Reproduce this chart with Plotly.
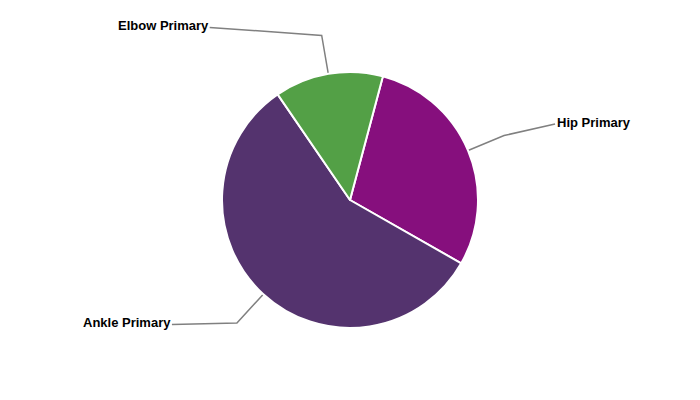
import math
import plotly.graph_objects as go

# ---- data ----
labels = ["Hip Primary", "Ankle Primary", "Elbow Primary"]
values = [29.1, 57.2, 13.7]
colors = ["#860f7d", "#54336e", "#53a046"]

# ---- layout parameters (pixels) ----
W, H = 700, 400
CX, CY, R = 350, 200, 128
ROTATION = 14.9
BREAK_R = 167
# label anchor offsets relative to the break point (dx, dy) and side
label_offsets = {
    "Hip Primary": (51, -11.5, "left"),
    "Ankle Primary": (-65, 1.5, "right"),
    "Elbow Primary": (-112, -8, "right"),
}

fig = go.Figure()

fig.add_trace(go.Pie(
    labels=labels, values=values, sort=False, direction="clockwise",
    rotation=ROTATION, textinfo="none", showlegend=False,
    marker=dict(colors=colors, line=dict(color="white", width=2)),
    domain=dict(x=[(CX - R) / W, (CX + R) / W], y=[1 - (CY + R) / H, 1 - (CY - R) / H]),
    hoverinfo="label+percent",
))

total = sum(values)
acc = 0.0
for lab, v in zip(labels, values):
    start = ROTATION + 360 * acc / total
    acc += v
    end = ROTATION + 360 * acc / total
    mid = math.radians((start + end) / 2)
    ex, ey = CX + R * math.sin(mid), CY - R * math.cos(mid)
    bx, by = CX + BREAK_R * math.sin(mid), CY - BREAK_R * math.cos(mid)
    dx, dy, side = label_offsets[lab]
    lx, ly = bx + dx, by + dy
    fig.add_trace(go.Scatter(
        x=[lx, bx, ex], y=[ly, by, ey], mode="lines",
        line=dict(color="#808080", width=1.5), hoverinfo="skip", showlegend=False,
    ))
    fig.add_annotation(
        x=lx + (0 if side == "left" else 1.5), y=ly - 2, text="<b>%s</b>" % lab,
        xref="x", yref="y", showarrow=False,
        xanchor="left" if side == "left" else "right", yanchor="middle",
        font=dict(family="Liberation Sans, Arial, sans-serif", size=13, color="#000000"),
    )

fig.update_layout(
    width=W, height=H, margin=dict(l=0, r=0, t=0, b=0),
    paper_bgcolor="white", plot_bgcolor="rgba(0,0,0,0)",
    xaxis=dict(range=[0, W], visible=False, fixedrange=True),
    yaxis=dict(range=[H, 0], visible=False, fixedrange=True),
)

fig.write_html(
    "out.html",
    config={"displayModeBar": False},
    post_script="document.body.style.margin='0';document.body.style.overflow='hidden';",
)
